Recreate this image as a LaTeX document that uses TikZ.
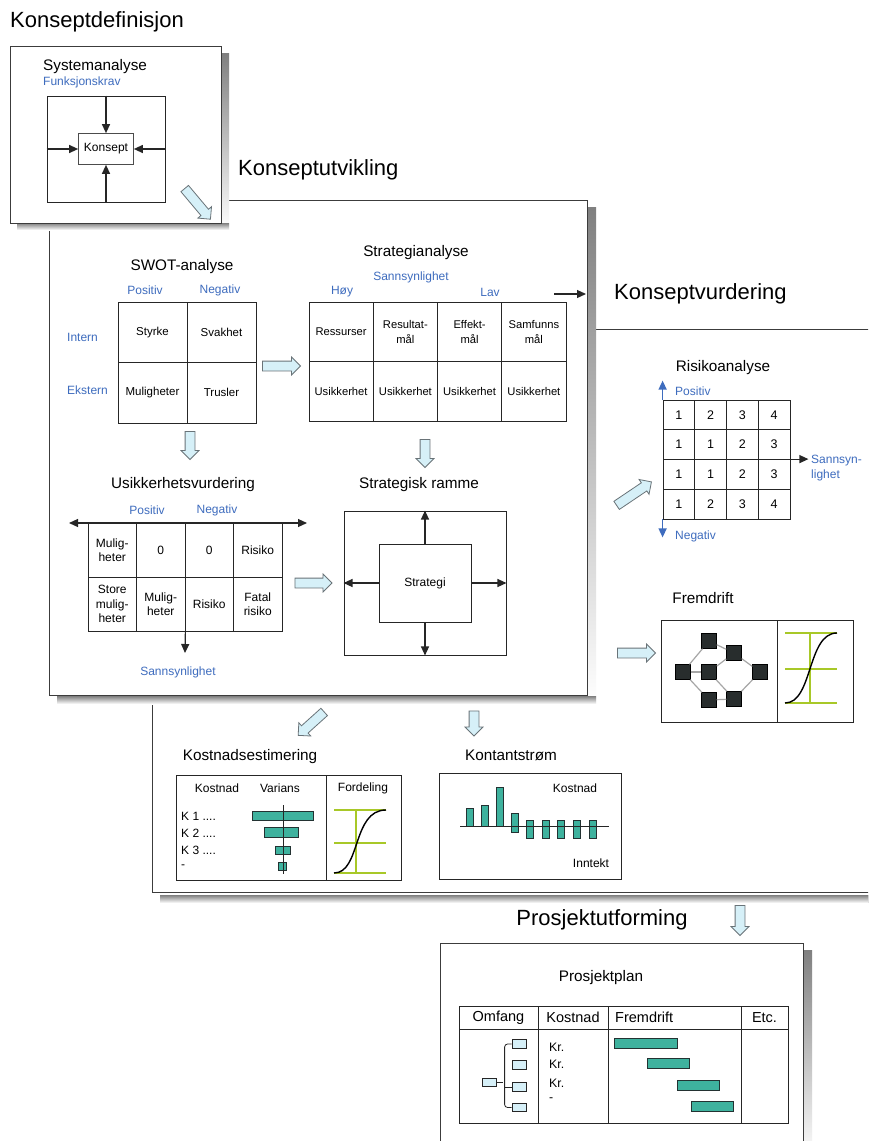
\documentclass[tikz,border=0pt]{standalone}
\usepackage{fontspec}
\setmainfont{Liberation Sans}
\usetikzlibrary{arrows.meta,shapes.arrows}

\definecolor{lblblue}{RGB}{62,108,190}
\definecolor{hollowfill}{RGB}{214,240,248}
\definecolor{hollowline}{RGB}{105,115,120}
\definecolor{shade}{RGB}{206,206,206}
\definecolor{tealbar}{RGB}{62,178,158}
\definecolor{barline}{RGB}{35,50,50}
\definecolor{curvegreen}{RGB}{168,200,40}
\definecolor{framecol}{RGB}{60,60,60}
\definecolor{netcol}{RGB}{40,45,45}

\begin{document}
\begin{tikzpicture}[x=1pt,y=-1pt,
  >={Triangle[length=9pt,width=8pt]},
  headtext/.style={font=\fontsize{22pt}{26pt}\selectfont, inner sep=0pt},
  subhead/.style={font=\fontsize{15.3pt}{18pt}\selectfont, inner sep=0pt},
  bluelbl/.style={font=\fontsize{12pt}{15pt}\selectfont, text=lblblue, inner sep=0pt},
  tcell/.style={draw=black!85, line width=0.8pt, align=center, inner sep=0pt,
    font=\fontsize{11.5pt}{14pt}\selectfont},
  panel/.style={draw=framecol, line width=1.1pt, fill=white, anchor=north west, inner sep=0pt},
  pbox/.style={draw=black!85, line width=0.9pt, inner sep=0pt},
  blk/.style={->, line width=1.2pt, draw=black!85},
  harrow/.style={shape=single arrow, draw=hollowline, fill=hollowfill, line width=0.8pt,
    inner sep=4.5pt, single arrow head extend=4pt, minimum height=#1},
  gbar/.style={fill=tealbar, draw=barline, line width=0.8pt},
  gline/.style={draw=curvegreen, line width=1.2pt},
  scurve/.style={draw=black, line width=1.4pt},
  netnode/.style={fill=netcol, draw=black, minimum size=15pt, inner sep=0pt},
  netedge/.style={draw=gray!70, line width=1.2pt},
  smalltxt/.style={font=\fontsize{12pt}{14pt}\selectfont, inner sep=0pt}
]
\path[use as bounding box] (0,0) rectangle (868,1141);
\clip (0,0) rectangle (868,1141);
\fill[white] (0,0) rectangle (868,1141);

% ---------- Prosjektutforming frame ----------
\fill[shade] (803,950) rectangle (812,1160);
\node[panel, minimum width=363pt, minimum height=217pt] (f4) at (440,943) {};

% ---------- Konseptvurdering frame ----------
\fill[shade] (160,895) rectangle (880,903);
\node[panel, minimum width=728pt, minimum height=563pt] (f3) at (152,329) {};

% ---------- Konseptutvikling frame ----------
\fill[shade] (587,207) rectangle (596,704);
\fill[shade] (57,696) rectangle (596,704);
\node[panel, minimum width=538pt, minimum height=495pt] (f2) at (49,200) {};

% ---------- Konseptdefinisjon frame ----------
\fill[shade] (221,53) rectangle (229,230);
\fill[shade] (17,223) rectangle (229,230);
\node[panel, minimum width=211pt, minimum height=177pt] (f1) at (10,46) {};

% ---------- Titles ----------
\node[headtext, anchor=west] (t1) at (10,22) {Konseptdefinisjon};
\node[headtext, anchor=west] (t2) at (238,170) {Konseptutvikling};
\node[headtext, anchor=west] (t3) at (614,294) {Konseptvurdering};
\node[headtext] (t4) at (602,920) {Prosjektutforming};

% ---------- Systemanalyse ----------
\node[subhead, anchor=west] (sysan) at (43,67) {Systemanalyse};
\node[bluelbl, anchor=west] (funk) at (43,82) {Funksjonskrav};
\node[pbox, minimum width=118pt, minimum height=106pt] (sysbox) at (106,149) {};
\node[draw=black!70, line width=0.7pt, minimum width=55pt, minimum height=31pt,
  font=\fontsize{12pt}{14pt}\selectfont, inner sep=0pt, fill=white] (konsept) at (106,149) {Konsept};
\draw[blk] (sysbox.north) -- (konsept.north);
\draw[blk] (sysbox.south) -- (konsept.south);
\draw[blk] (sysbox.west) -- (konsept.west);
\draw[blk] (sysbox.east) -- (konsept.east);
\node[harrow=40pt, rotate=-50] (h1) at (196,202) {};

% ---------- SWOT-analyse ----------
\node[subhead] (swot) at (182,267) {SWOT-analyse};
\node[bluelbl] (swpos) at (145,290) {Positiv};
\node[bluelbl] (swneg) at (220,290) {Negativ};
\node[bluelbl, anchor=west] (intern) at (67,337) {Intern};
\node[bluelbl, anchor=west] (ekstern) at (67,390) {Ekstern};
\node[tcell, minimum width=69pt, minimum height=60.5pt] (sw11) at (152.5,332.25) {Styrke};
\node[tcell, minimum width=69pt, minimum height=60.5pt] (sw12) at (221.5,332.25) {Svakhet};
\node[tcell, minimum width=69pt, minimum height=60.5pt] (sw21) at (152.5,392.75) {Muligheter};
\node[tcell, minimum width=69pt, minimum height=60.5pt] (sw22) at (221.5,392.75) {Trusler};
\node[harrow=38pt] (h2) at (279,366) {};
\node[harrow=28pt, rotate=-90] (h3) at (190,443) {};

% ---------- Strategianalyse ----------
\node[subhead] (strat) at (416,253) {Strategianalyse};
\node[bluelbl] (ssann) at (411,277) {Sannsynlighet};
\node[bluelbl] (shoy) at (342,292) {Høy};
\node[bluelbl] (slav) at (490,292) {Lav};
\tikzset{scell/.style={tcell, minimum width=64.25pt, minimum height=59.5pt, font=\fontsize{11.2pt}{15pt}\selectfont}}
\node[scell] (st11) at (341.1,331.75) {Ressurser};
\node[scell] (st12) at (405.4,331.75) {Resultat-\\mål};
\node[scell] (st13) at (469.6,331.75) {Effekt-\\mål};
\node[scell] (st14) at (533.9,331.75) {Samfunns\\mål};
\foreach \c/\xc in {1/341.1, 2/405.4, 3/469.6, 4/533.9}
  \node[scell] (st2\c) at (\xc,391.25) {Usikkerhet};
\coordinate (sa1) at (554,294);
\coordinate (sa2) at (586,294);
\draw[blk] (sa1) -- (sa2);
\node[harrow=28pt, rotate=-90] (h4) at (425,451) {};

% ---------- Usikkerhetsvurdering ----------
\node[subhead] (usik) at (183,485) {Usikkerhetsvurdering};
\node[bluelbl] (upos) at (147,510) {Positiv};
\node[bluelbl] (uneg) at (217,510) {Negativ};
\tikzset{ucell/.style={tcell, minimum width=48.5pt, minimum height=54pt,
  font=\fontsize{12pt}{14.5pt}\selectfont}}
\node[ucell] (u11) at (112.25,550) {Mulig-\\heter};
\node[ucell] (u12) at (160.75,550) {0};
\node[ucell] (u13) at (209.25,550) {0};
\node[ucell] (u14) at (257.75,550) {Risiko};
\node[ucell] (u21) at (112.25,604) {Store\\mulig-\\heter};
\node[ucell] (u22) at (160.75,604) {Mulig-\\heter};
\node[ucell] (u23) at (209.25,604) {Risiko};
\node[ucell] (u24) at (257.75,604) {Fatal\\risiko};
\coordinate (ul) at (69,523);
\coordinate (ur) at (307,523);
\draw[<->, line width=1.2pt, draw=black!85] (ul) -- (ur);
\coordinate (ud) at (185,653);
\draw[blk] (u22.south east) -- (ud);
\node[bluelbl] (usann) at (178,672) {Sannsynlighet};
\node[harrow=37pt] (h5) at (311,583) {};

% ---------- Strategisk ramme ----------
\node[subhead] (ramme) at (419,485) {Strategisk ramme};
\node[pbox, minimum width=162pt, minimum height=144pt] (rout) at (425,583) {};
\node[pbox, minimum width=92pt, minimum height=78pt, font=\fontsize{12pt}{14pt}\selectfont] (rin) at (425,583) {Strategi};
\draw[blk] (rin.north) -- (rout.north);
\draw[blk] (rin.south) -- (rout.south);
\draw[blk] (rin.west) -- (rout.west);
\draw[blk] (rin.east) -- (rout.east);

% ---------- Risikoanalyse ----------
\node[subhead] (risk) at (723,368) {Risikoanalyse};
\foreach \r/\a/\b/\c/\d in {1/1/2/3/4, 2/1/1/2/3, 3/1/1/2/3, 4/1/2/3/4}{
  \foreach \col/\v in {1/\a, 2/\b, 3/\c, 4/\d}{
    \node[tcell, minimum width=31.75pt, minimum height=29.75pt, font=\fontsize{12.5pt}{14pt}\selectfont]
      (r\r\col) at ({663+31.75*(\col-0.5)},{400+29.75*(\r-0.5)}) {\v};
  }
}
\draw[->, draw=lblblue, line width=1.4pt] (r11.north west) -- ++(0,-19);
\draw[->, draw=lblblue, line width=1.4pt] (r41.south west) -- ++(0,18);
\node[bluelbl, anchor=west] (rpos) at (675,391) {Positiv};
\node[bluelbl, anchor=west] (rneg) at (675,536) {Negativ};
\draw[blk] (r34.north east) -- ++(18,0);
\node[bluelbl, anchor=west, align=left] (rsann) at (811,468) {Sannsyn-\\lighet};
\node[harrow=42pt, rotate=34] (h6) at (632,495) {};

% ---------- Fremdrift ----------
\node[subhead] (frem) at (703,598) {Fremdrift};
\node[pbox, minimum width=116pt, minimum height=102pt, fill=white] (fnet) at (719,671) {};
\node[pbox, minimum width=76pt, minimum height=102pt, fill=white] (fcurve) at (815,671) {};
\node[harrow=38pt] (h7) at (634,653) {};
\foreach \n/\xc/\yc in {na/709/641, nb/734/653, nc/683/672, nd/709/672, ne/760/672, nf/709/700, ng/734/699}
  \node[netnode] (\n) at (\xc,\yc) {};
\draw[netedge] (nc) -- (na);
\draw[netedge] (nc) -- (nd);
\draw[netedge] (nc) -- (nf);
\draw[netedge] (na) -- (nb);
\draw[netedge] (nd) -- (nb);
\draw[netedge] (nd) -- (ng);
\draw[netedge] (nb) -- (ne);
\draw[netedge] (ng) -- (ne);
\draw[netedge] (nf) -- (ng);
\draw[gline] (785,633) -- (837,633);
\draw[gline] (785,669) -- (837,669);
\draw[gline] (785,703) -- (837,703);
\draw[gline] (810,633) -- (810,703);
\draw[scurve] (785,703) .. controls (813,703) and (807,633) .. (837,633);

% ---------- Kostnadsestimering ----------
\node[harrow=35pt, rotate=-138] (h8) at (313,722) {};
\node[harrow=25pt, rotate=-90] (h9) at (474,721) {};
\node[subhead] (kest) at (250,757) {Kostnadsestimering};
\node[pbox, minimum width=150pt, minimum height=105pt] (kb1) at (251,827.5) {};
\node[pbox, minimum width=75pt, minimum height=105pt] (kb2) at (363.5,827.5) {};
\node[smalltxt] (kkost) at (217,788) {Kostnad};
\node[smalltxt] (kvar) at (280,788) {Varians};
\node[smalltxt] (kford) at (363,788) {Fordeling};
\node[smalltxt, anchor=west] (k1) at (181,816) {K 1 ....};
\node[smalltxt, anchor=west] (k2) at (181,833) {K 2 ....};
\node[smalltxt, anchor=west] (k3) at (181,850) {K 3 ....};
\node[smalltxt, anchor=west] (k4) at (181,867) {-};
\draw[gbar] (252,811) rectangle (313,820);
\draw[gbar] (264,827) rectangle (298,837);
\draw[gbar] (275,846) rectangle (290,854);
\draw[gbar] (278,862) rectangle (286,870);
\draw[line width=1pt, black!85] (283,805) -- (283,874);
\draw[gline] (334,810) -- (386,810);
\draw[gline] (334,843) -- (386,843);
\draw[gline] (334,873) -- (386,873);
\draw[gline] (356,810) -- (356,873);
\draw[scurve] (334,873) .. controls (361,873) and (352,810) .. (386,810);

% ---------- Kontantstrøm ----------
\node[subhead] (kstr) at (511,755) {Kontantstrøm};
\node[pbox, minimum width=182pt, minimum height=106pt] (kbox) at (530,826) {};
\node[smalltxt] (kskost) at (575,788) {Kostnad};
\node[smalltxt] (ksinn) at (591,863) {Inntekt};
\foreach \xc/\ya/\yb in {470/826/808, 485/826/805, 500/826/787, 515/813/832, 530/820/838,
    545.5/820/838, 561/820/838, 577/820/838, 593/820/838}
  \draw[gbar] ({\xc-3.5},\ya) rectangle ({\xc+3.5},\yb);
\coordinate (kl) at (460,826);
\coordinate (kr) at (609,826);
\draw[line width=1pt, black!85] (kl) -- (kr);

% ---------- Prosjektplan ----------
\node[harrow=30pt, rotate=-90] (h10) at (740,918) {};
\node[subhead] (pplan) at (601,978) {Prosjektplan};
\tikzset{pcell/.style={draw=black!85, line width=0.8pt, inner sep=0pt, font=\fontsize{14.5pt}{17pt}\selectfont}}
\node[pcell, minimum width=79pt, minimum height=23pt] (ph1) at (498.5,1017.5) {Omfang};
\node[pcell, minimum width=70pt, minimum height=23pt] (ph2) at (573,1017.5) {Kostnad};
\node[pcell, minimum width=133pt, minimum height=23pt] (ph3) at (674.5,1017.5) {};
\node[pcell, minimum width=47pt, minimum height=23pt] (ph4) at (764.5,1017.5) {Etc.};
\node[font=\fontsize{14.5pt}{17pt}\selectfont, inner sep=0pt, anchor=west] (phf) at (615,1017.5) {Fremdrift};
\node[pcell, minimum width=79pt, minimum height=94pt] (pb1) at (498.5,1076) {};
\node[pcell, minimum width=70pt, minimum height=94pt] (pb2) at (573,1076) {};
\node[pcell, minimum width=133pt, minimum height=94pt] (pb3) at (674.5,1076) {};
\node[pcell, minimum width=47pt, minimum height=94pt] (pb4) at (764.5,1076) {};
\foreach \i/\yc/\t in {1/1047/Kr., 2/1064/Kr., 3/1083/Kr., 4/1100/-}
  \node[font=\fontsize{12.3pt}{14pt}\selectfont, inner sep=0pt, anchor=west] (kr\i) at (549,\yc) {\t};
\draw[gbar] (614,1038) rectangle (677,1048);
\draw[gbar] (647,1058) rectangle (689,1068);
\draw[gbar] (677,1080) rectangle (719,1090);
\draw[gbar] (691,1101) rectangle (733,1111);
% work breakdown tree
\tikzset{wbs/.style={draw=black!85, fill=hollowfill, line width=0.8pt, minimum width=14pt, minimum height=8.5pt, inner sep=0pt}}
\node[wbs] (wr) at (489,1082.5) {};
\node[wbs] (w1) at (519,1044) {};
\node[wbs] (w2) at (519,1065) {};
\node[wbs] (w3) at (519,1087) {};
\node[wbs] (w4) at (519,1107.5) {};
\draw[line width=0.8pt, black!85, rounded corners=3pt] (w1.west) -- ++(-7,0) |- (w4.west);
\draw[line width=0.8pt, black!85] (wr.east) -- ++(7,0);
\draw[line width=0.8pt, black!85] (w3.west) -- ++(-7,0);
\end{tikzpicture}
\end{document}
